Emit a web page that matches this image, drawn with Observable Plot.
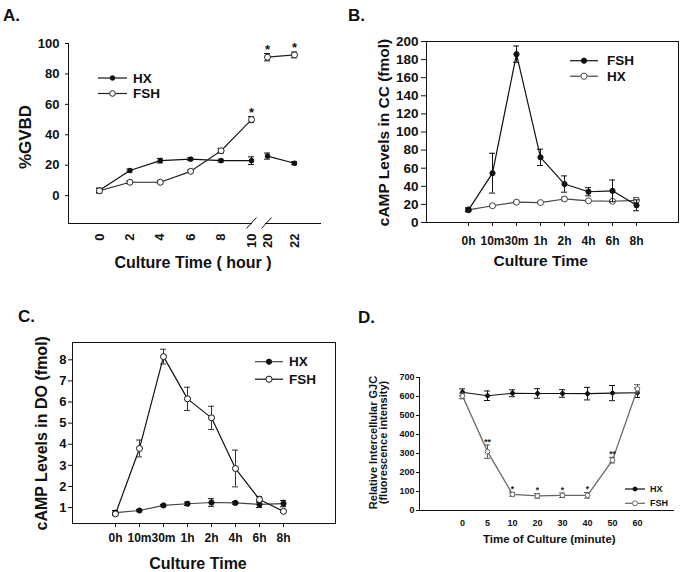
<!DOCTYPE html>
<html><head><meta charset="utf-8">
<script src="https://cdn.jsdelivr.net/npm/d3@7"></script>
<script src="https://cdn.jsdelivr.net/npm/@observablehq/plot@0.6"></script>
<style>
body{margin:0;background:#fff;}
#wrap{position:relative;width:682px;height:572px;overflow:hidden;font-family:"Liberation Sans",Arial,sans-serif;}
#wrap > svg{position:absolute;}
#overlay{pointer-events:none;}
</style></head><body><div id="wrap"></div>
<script>
// ---------- Panel A : %GVBD ----------
const hoursA = [0, 2, 4, 6, 8, 10, 20, 22];
const breakA = [10, 20];
const seriesA = ["HX", "FSH"];
const hxA = [3.5, 16.5, 23, 24, 23, 23, 26, 21.3];
const hxErrA = [1.5, 1, 1.5, 1, 1, 2.5, 2, 1];
const fshA = [3.2, 8.8, 8.8, 16, 29.5, 50, 91, 92.5];
const fshErrA = [1.5, 0.8, 0.8, 0.8, 1.5, 2, 2.4, 1.9];
const sigA = ["", "", "", "", "", "*", "*", "*"];
const yTicksA = [0, 20, 40, 60, 80, 100];

// ---------- Panel B : cAMP in CC ----------
const timesB = ["0h", "10m", "30m", "1h", "2h", "4h", "6h", "8h"];
const seriesB = ["FSH", "HX"];
const fshB = [14, 54.5, 186, 72, 42.5, 34, 35, 19];
const fshErrB = [2, 22, 9, 9, 9, 4.5, 12, 6];
const hxB = [14, 18.5, 22.5, 22, 26, 24, 23.5, 24.5];
const hxErrB = [2, 1, 1, 1, 2, 1, 1, 3];
const yTicksB = [0, 20, 40, 60, 80, 100, 120, 140, 160, 180, 200];

// ---------- Panel C : cAMP in DO ----------
const timesC = ["0h", "10m", "30m", "1h", "2h", "4h", "6h", "8h"];
const seriesC = ["HX", "FSH"];
const hxC = [0.76, 0.86, 1.1, 1.18, 1.24, 1.22, 1.15, 1.19];
const hxErrC = [0.1, 0.05, 0.05, 0.08, 0.18, 0.06, 0.15, 0.15];
const fshC = [0.7, 3.8, 8.15, 6.15, 5.25, 2.85, 1.38, 0.82];
const fshErrC = [0.08, 0.4, 0.35, 0.55, 0.55, 0.87, 0.15, 0.04];
const yTicksC = [1, 2, 3, 4, 5, 6, 7, 8];

// ---------- Panel D : GJC ----------
const minutesD = [0, 5, 10, 20, 30, 40, 50, 60];
const seriesD = ["HX", "FSH"];
const hxD = [622, 604, 617, 616, 616, 615, 618, 620];
const hxErrD = [18, 25, 18, 25, 20, 33, 40, 25];
const fshD = [603, 310, 85, 77, 80, 80, 265, 640];
const fshErrD = [15, 35, 10, 12, 12, 15, 15, 22];
const sigD = ["", "**", "*", "*", "*", "*", "**", ""];
const yTicksD = [0, 100, 200, 300, 400, 500, 600, 700];

const FONT = '"Liberation Sans", Arial, Helvetica, sans-serif';

function rows(xs, vs, es, sig) {
  return xs.map((x, i) => ({x, v: vs[i], e: es[i], s: sig ? sig[i] : ""}));
}

function seriesMarks(data, {color = "#111", lineColor = "#111", open = false, r = 2.5, cap = 3, z, sw = 1.2}) {
  return [
    Plot.ruleX(data, {x: "x", y1: d => d.v - d.e, y2: d => d.v + d.e, stroke: color, strokeWidth: 1}),
    Plot.ruleY(data, {x1: "x", x2: "x", y: d => d.v + d.e, stroke: color, strokeWidth: 1, insetLeft: -cap, insetRight: -cap}),
    Plot.ruleY(data, {x1: "x", x2: "x", y: d => d.v - d.e, stroke: color, strokeWidth: 1, insetLeft: -cap, insetRight: -cap}),
    Plot.line(data, {x: "x", y: "v", z, stroke: lineColor, strokeWidth: sw}),
    Plot.dot(data, {x: "x", y: "v", r, fill: open ? "white" : color, stroke: open ? lineColor : color, strokeWidth: 1})
  ];
}

const baseStyle = (fs) => ({fontFamily: FONT, fontWeight: "bold", fontSize: fs, color: "#111", background: "transparent", overflow: "visible"});

// Panel A
const hxRowsA = rows(hoursA, hxA, hxErrA);
const fshRowsA = rows(hoursA, fshA, fshErrA, sigA);
const segA = d => d.x > breakA[0] ? "late" : "early";
const chartA = Plot.plot({
  width: 340, height: 290,
  marginLeft: 68, marginRight: 20, marginTop: 43, marginBottom: 67,
  style: baseStyle("13px"),
  x: {type: "linear", domain: [0, 10, 20, 22], range: [99, 251, 267, 294]},
  y: {domain: [-18.3, 100]},
  marks: [
    Plot.frame({anchor: "left", stroke: "#111"}),
    Plot.frame({anchor: "bottom", stroke: "#111"}),
    Plot.axisY({ticks: yTicksA, tickSize: 3, tickPadding: 6, label: null, fontSize: 13, fontWeight: "bold"}),
    Plot.axisX({ticks: hoursA, tickSize: 0, tickRotate: -90, tickPadding: 10, label: null, fontSize: 13, fontWeight: "bold"}),
    ...seriesMarks(hxRowsA, {color: "#111", lineColor: "#111", r: 2.3, z: segA}),
    ...seriesMarks(fshRowsA, {color: "#111", lineColor: "#222", open: true, r: 3, z: segA}),
    Plot.text(fshRowsA.filter(d => d.s), {x: "x", y: d => d.v + d.e, text: "s", dy: -4, fontSize: 13, fontWeight: "bold"})
  ]
});
chartA.style.left = "0px"; chartA.style.top = "0px";

// Panel B
const chartB = Plot.plot({
  width: 342, height: 290,
  marginLeft: 86, marginRight: 4, marginTop: 41, marginBottom: 68,
  style: baseStyle("13px"),
  x: {type: "point", domain: timesB, range: [114.3, 310]},
  y: {domain: [0, 200]},
  marks: [
    Plot.frame({stroke: "#111"}),
    Plot.axisY({ticks: yTicksB, tickSize: 5, tickPadding: 3, label: null, fontSize: 13.5, fontWeight: "bold"}),
    Plot.axisX({tickSize: 4, tickPadding: 10, label: null, fontSize: 12, fontWeight: "bold", style: {letterSpacing: "-0.3px"}}),
    ...seriesMarks(rows(timesB, hxB, hxErrB), {color: "#333", lineColor: "#444", open: true, r: 3}),
    ...seriesMarks(rows(timesB, fshB, fshErrB), {color: "#111", lineColor: "#111", r: 2.6})
  ]
});
chartB.style.left = "340px"; chartB.style.top = "0px";

// Panel C
const chartC = Plot.plot({
  width: 340, height: 282,
  marginLeft: 72, marginRight: 5, marginTop: 52, marginBottom: 49,
  style: baseStyle("13px"),
  x: {type: "point", domain: timesC, range: [99.3, 298.3]},
  y: {domain: [0.245, 8.82]},
  marks: [
    Plot.frame({stroke: "#111"}),
    Plot.axisY({ticks: yTicksC, tickSize: 4, tickPadding: 2, label: null, fontSize: 13, fontWeight: "bold"}),
    Plot.axisX({tickSize: 4, tickPadding: 6, label: null, fontSize: 12, fontWeight: "bold"}),
    ...seriesMarks(rows(timesC, hxC, hxErrC), {color: "#111", lineColor: "#444", r: 2.6}),
    ...seriesMarks(rows(timesC, fshC, fshErrC), {color: "#333", lineColor: "#111", open: true, r: 3})
  ]
});
chartC.style.left = "0px"; chartC.style.top = "290px";

// Panel D
const fshRowsD = rows(minutesD, fshD, fshErrD, sigD);
const chartD = Plot.plot({
  width: 342, height: 282,
  marginLeft: 79, marginRight: 9, marginTop: 87, marginBottom: 62,
  style: baseStyle("9px"),
  x: {type: "point", domain: minutesD, range: [108.7, 309.3]},
  y: {domain: [0, 700]},
  marks: [
    Plot.frame({anchor: "left", stroke: "#111"}),
    Plot.frame({anchor: "bottom", stroke: "#111"}),
    Plot.axisY({ticks: yTicksD, tickSize: 3, tickPadding: 2, label: null, fontSize: 9, fontWeight: "bold"}),
    Plot.axisX({tickSize: 0, tickPadding: 9, label: null, fontSize: 9, fontWeight: "bold"}),
    ...seriesMarks(rows(minutesD, hxD, hxErrD), {color: "#111", lineColor: "#111", r: 2, cap: 3, sw: 1.1}),
    ...seriesMarks(fshRowsD, {color: "#555", lineColor: "#666", open: true, r: 2.3, cap: 3, sw: 1.3}),
    Plot.text(fshRowsD.filter(d => d.s), {x: "x", y: d => d.v + d.e, text: "s", dy: -3, fontSize: 8.5, fontWeight: "bold", fill: "#222"})
  ]
});
chartD.style.left = "340px"; chartD.style.top = "290px";

const wrap = document.getElementById("wrap");
[chartA, chartB, chartC, chartD].forEach(c => wrap.appendChild(c));

// ---------- Overlay: titles, legends, axis break ----------
const ov = d3.select(wrap).append("svg").attr("id", "overlay")
  .attr("width", 682).attr("height", 572).style("left", "0px").style("top", "0px")
  .style("font-family", FONT).style("font-weight", "bold").attr("fill", "#111");

function label(x, y, txt, size, rot = 0, anchor = "middle") {
  ov.append("text").attr("transform", `translate(${x},${y}) rotate(${rot})`)
    .attr("text-anchor", anchor).attr("dominant-baseline", "central")
    .style("font-size", size + "px").text(txt);
}
// panel letters
label(3, 15, "A.", 17, 0, "start");
label(348, 15, "B.", 17, 0, "start");
label(18, 316, "C.", 17, 0, "start");
label(358, 317, "D.", 17, 0, "start");
// axis titles
label(25, 137, "%GVBD", 17, -90);
label(193, 262, "Culture Time ( hour )", 16);
label(383.5, 132.5, "cAMP Levels in CC (fmol)", 15.5, -90);
label(540.7, 260, "Culture Time", 15.5);
label(41.7, 433.3, "cAMP Levels in DO (fmol)", 16, -90);
label(198, 563.3, "Culture Time", 16);
label(372.5, 442.5, "Relative Intercellular GJC", 11, -90);
label(383, 442.5, "(fluorescence intensity)", 11, -90);
label(549.3, 539.3, "Time of Culture (minute)", 11.5);

// axis break marks on panel A (positions from Plot's x scale)
const sxA = chartA.scale("x"), syA = chartA.scale("y");
const xb1 = sxA.apply(breakA[0]), xb2 = sxA.apply(breakA[1]), yb = syA.apply(-18.3);
ov.append("rect").attr("x", xb1 + 1).attr("y", yb - 2).attr("width", xb2 - xb1 - 3).attr("height", 4).attr("fill", "white");
[[xb1, -4.5, 5.5], [xb2, -5.5, 4.5]].forEach(([xc, a, b]) => {
  ov.append("line").attr("x1", xc + a).attr("y1", yb + 5.5).attr("x2", xc + b).attr("y2", yb - 5.5)
    .attr("stroke", "#111").attr("stroke-width", 1);
});

// legends
function legend(items, {x0, x1, xt, y0, gap, fs, r}) {
  items.forEach((it, i) => {
    const y = y0 + i * gap;
    ov.append("line").attr("x1", x0).attr("x2", x1).attr("y1", y).attr("y2", y)
      .attr("stroke", it.line).attr("stroke-width", 1.2);
    ov.append("circle").attr("cx", (x0 + x1) / 2).attr("cy", y).attr("r", it.open ? r + 0.5 : r)
      .attr("fill", it.open ? "white" : it.color).attr("stroke", it.open ? it.line : it.color);
    ov.append("text").attr("x", xt).attr("y", y).attr("dominant-baseline", "central")
      .style("font-size", fs + "px").text(it.name);
  });
}
legend([{name: seriesA[0], color: "#111", line: "#111"}, {name: seriesA[1], color: "#111", line: "#222", open: true}],
  {x0: 98, x1: 127, xt: 133, y0: 78, gap: 15.5, fs: 13.5, r: 2.3});
legend([{name: seriesB[0], color: "#111", line: "#111"}, {name: seriesB[1], color: "#333", line: "#444", open: true}],
  {x0: 570, x1: 598, xt: 607, y0: 60.7, gap: 15.5, fs: 13.5, r: 2.6});
legend([{name: seriesC[0], color: "#111", line: "#444"}, {name: seriesC[1], color: "#333", line: "#111", open: true}],
  {x0: 255, x1: 283, xt: 289, y0: 361.7, gap: 17.5, fs: 13.5, r: 2.6});
legend([{name: seriesD[0], color: "#111", line: "#111"}, {name: seriesD[1], color: "#555", line: "#666", open: true}],
  {x0: 625, x1: 645, xt: 650, y0: 489, gap: 14.3, fs: 9, r: 2});
</script>
</body></html>
